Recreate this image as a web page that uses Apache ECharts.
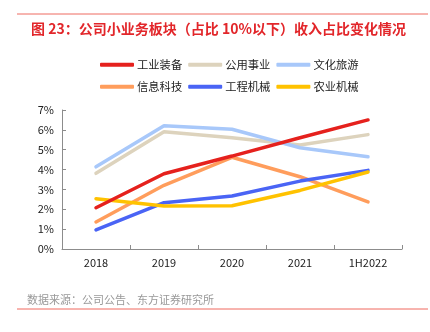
<!DOCTYPE html>
<html>
<head>
<meta charset="utf-8">
<script src="https://cdn.jsdelivr.net/npm/echarts@6/dist/echarts.min.js"></script>
<style>
html,body{margin:0;padding:0;background:#fff;}
#c{width:430px;height:332px;}
</style>
</head>
<body>
<div id="c"></div>
<script>
var categories = ['2018', '2019', '2020', '2021', '1H2022'];
var seriesNames = ['工业装备', '公用事业', '文化旅游', '信息科技', '工程机械', '农业机械'];
var gongyeZhuangbei = [2.08, 3.79, 4.68, 5.6, 6.5];
var gongyongShiye = [3.81, 5.9, 5.6, 5.24, 5.76];
var wenhuaLvyou = [4.14, 6.21, 6.03, 5.1, 4.65];
var xinxiKeji = [1.36, 3.21, 4.62, 3.64, 2.37];
var gongchengJixie = [0.96, 2.33, 2.67, 3.42, 3.96];
var nongyeJixie = [2.53, 2.17, 2.18, 2.95, 3.88];
var yTicks = [0, 1, 2, 3, 4, 5, 6, 7];

var colors = ['#E5211D', '#DDD3BD', '#A8C8FA', '#FF9D5C', '#4A64F5', '#FFC200'];
var values = [gongyeZhuangbei, gongyongShiye, wenhuaLvyou, xinxiKeji, gongchengJixie, nongyeJixie];
var zs = [8, 3, 4, 5, 6, 7];

var chart = echarts.init(document.getElementById('c'), null, {renderer: 'canvas'});
var font = '"Noto Sans CJK SC", "Liberation Sans", sans-serif';

var series = seriesNames.map(function (n, i) {
  return {
    name: n,
    type: 'line',
    data: values[i],
    showSymbol: false,
    symbol: 'none',
    z: zs[i],
    lineStyle: {color: colors[i], width: 3.5, cap: 'round'},
    itemStyle: {color: colors[i]},
    animation: false
  };
});

function legend(names, top) {
  return {
    data: names,
    left: 95,
    top: top,
    icon: 'roundRect',
    itemWidth: 34,
    itemHeight: 4,
    itemGap: 6,
    textStyle: {fontSize: 11.3, color: '#222', fontFamily: font, padding: [0, 0, 0, -2]}
  };
}

chart.setOption({
  backgroundColor: '#fff',
  animation: false,
  textStyle: {fontFamily: font},
  title: {
    text: '图 23：公司小业务板块（占比 10%以下）收入占比变化情况',
    left: 26,
    top: 17,
    textStyle: {fontSize: 14, fontWeight: 'bold', color: '#E2262A', fontFamily: font}
  },
  graphic: [
    {type: 'line', shape: {x1: 17, y1: 14, x2: 428, y2: 14}, style: {stroke: '#EE6A60', lineWidth: 1}},
    {type: 'line', shape: {x1: 17, y1: 309, x2: 428, y2: 309}, style: {stroke: '#F0695F', lineWidth: 1}},
    {type: 'text', left: 27, top: 294, style: {text: '数据来源：公司公告、东方证券研究所', fontSize: 11, fill: '#999', fontFamily: font}}
  ],
  legend: [legend(seriesNames.slice(0, 3), 54), legend(seriesNames.slice(3), 76)],
  grid: {left: 62, right: 28, top: 110, bottom: 83, containLabel: false},
  xAxis: {
    type: 'category',
    data: categories,
    boundaryGap: true,
    axisLine: {lineStyle: {color: '#8c8c8c', width: 1}},
    axisTick: {show: true, inside: true, length: 4, lineStyle: {color: '#8c8c8c'}},
    axisLabel: {fontSize: 11, color: '#222', margin: 8, fontFamily: font}
  },
  yAxis: {
    type: 'value',
    min: yTicks[0],
    max: yTicks[yTicks.length - 1],
    interval: 1,
    axisLine: {show: true, lineStyle: {color: '#8c8c8c', width: 1}},
    axisTick: {show: true, inside: true, length: 4, lineStyle: {color: '#8c8c8c'}},
    splitLine: {show: false},
    axisLabel: {fontSize: 11, color: '#222', margin: 8, formatter: '{value}%', fontFamily: font}
  },
  series: series
});
</script>
</body>
</html>
